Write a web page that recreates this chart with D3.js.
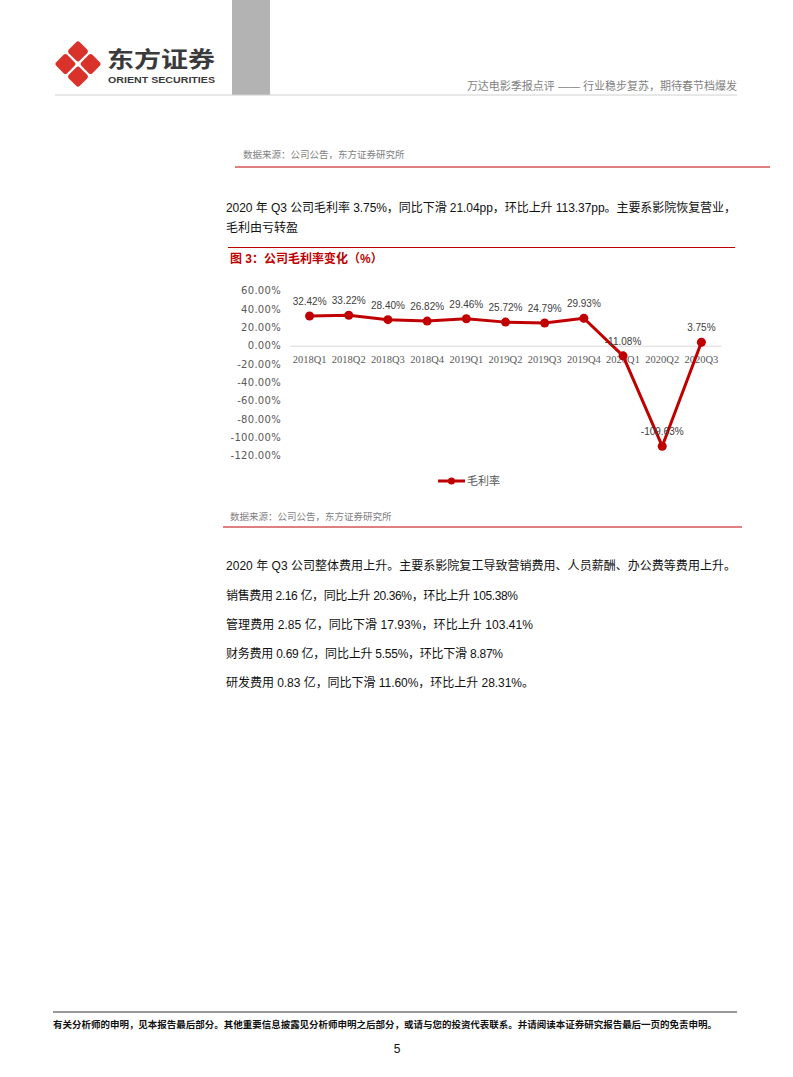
<!DOCTYPE html>
<html><head><meta charset="utf-8">
<script src="https://cdn.jsdelivr.net/npm/d3@7"></script>
<style>
html,body{margin:0;padding:0;background:#fff;}
svg{display:block;}
</style></head>
<body>
<div id="page"></div>
<script>
const categories = ["2018Q1","2018Q2","2018Q3","2018Q4","2019Q1","2019Q2","2019Q3","2019Q4","2020Q1","2020Q2","2020Q3"];
const grossMargin = [32.42, 33.22, 28.40, 26.82, 29.46, 25.72, 24.79, 29.93, -11.08, -109.63, 3.75];
const yTicks = [60, 40, 20, 0, -20, -40, -60, -80, -100, -120];
const seriesName = "毛利率";

const W = 793, H = 1077;
const CJK = "'Liberation Sans','Noto Sans CJK SC',sans-serif";
const RED = "#c00000";

const svg = d3.select("#page").append("svg").attr("width", W).attr("height", H);
svg.append("rect").attr("width", W).attr("height", H).attr("fill", "#fff");

// ---------- header ----------
svg.append("rect").attr("x", 232).attr("y", 0).attr("width", 38).attr("height", 95).attr("fill", "#b3b3b3");
svg.append("line").attr("x1", 55).attr("x2", 737).attr("y1", 95).attr("y2", 95).attr("stroke", "#d0d0d0").attr("stroke-width", 1);

// logo: four rounded diamonds forming an X-cut rhombus
const logo = svg.append("g").attr("transform", "translate(78,64)");
const pieces = [[0, -12.6], [12.6, 0], [0, 12.6], [-12.6, 0]];
logo.selectAll("rect").data(pieces).join("rect")
  .attr("x", -7.8).attr("y", -7.8).attr("width", 15.6).attr("height", 15.6).attr("rx", 2.6)
  .attr("transform", d => `translate(${d[0]},${d[1]}) rotate(45)`).attr("fill", "#d9322b");

svg.append("text").attr("x", 107).attr("y", 67).attr("font-family", "'Noto Sans CJK SC',sans-serif")
  .attr("font-weight", "bold").attr("font-size", 22).attr("fill", "#3a3a3a")
  .attr("textLength", 108).attr("lengthAdjust", "spacingAndGlyphs").text("东方证券");
svg.append("text").attr("x", 108).attr("y", 83).attr("font-family", "'Liberation Sans',sans-serif")
  .attr("font-weight", "bold").attr("font-size", 9.5).attr("fill", "#3a3a3a")
  .attr("textLength", 107).attr("lengthAdjust", "spacingAndGlyphs").text("ORIENT SECURITIES");
svg.append("text").attr("x", 737).attr("y", 90).attr("text-anchor", "end").attr("font-family", CJK)
  .attr("font-size", 11).attr("fill", "#7f7f7f").text("万达电影季报点评 —— 行业稳步复苏，期待春节档爆发");

// ---------- top source ----------
svg.append("text").attr("x", 243).attr("y", 158).attr("font-family", CJK).attr("font-size", 9.5)
  .attr("fill", "#7f7f7f").text("数据来源：公司公告，东方证券研究所");
svg.append("line").attr("x1", 235).attr("x2", 770).attr("y1", 167).attr("y2", 167).attr("stroke", RED).attr("stroke-width", 1);

// paragraph
const para = (y, t, len) => {
  const el = svg.append("text").attr("x", 226).attr("y", y).attr("font-family", CJK)
    .attr("font-size", 12).attr("fill", "#111").text(t);
  if (len) el.attr("textLength", len).attr("lengthAdjust", "spacing");
  return el;
};
para(212, "2020 年 Q3 公司毛利率 3.75%，同比下滑 21.04pp，环比上升 113.37pp。主要系影院恢复营业，", 510);
para(232, "毛利由亏转盈");

svg.append("line").attr("x1", 228).attr("x2", 735).attr("y1", 247.5).attr("y2", 247.5).attr("stroke", RED).attr("stroke-width", 1);
svg.append("text").attr("x", 230).attr("y", 263).attr("font-family", CJK).attr("font-size", 12)
  .attr("font-weight", "bold").attr("fill", RED).text("图 3：公司毛利率变化（%）");

// ---------- chart ----------
const x = d3.scaleBand().domain(categories).range([290, 721]);
const y = d3.scaleLinear().domain([-120, 60]).range([455.7, 290.7]);
const cx = d => x(d) + x.bandwidth() / 2;

// y axis
const yAxis = svg.append("g").attr("transform", "translate(281,0)")
  .call(d3.axisLeft(y).tickValues(yTicks).tickSize(0).tickPadding(0).tickFormat(d => d.toFixed(2) + "%"));
yAxis.select(".domain").remove();
yAxis.selectAll("text").attr("font-family", "'DejaVu Sans',sans-serif").attr("font-size", 10)
  .attr("letter-spacing", 0.3).attr("fill", "#595959");

// zero line / x axis
const xAxis = svg.append("g").attr("transform", `translate(0,${y(0)})`)
  .call(d3.axisBottom(x).tickSize(0).tickPadding(10));
xAxis.select(".domain").attr("stroke", "#d9d9d9").attr("stroke-width", 1);
xAxis.selectAll("text").attr("font-family", "'Liberation Serif',serif").attr("font-size", 10.5)
  .attr("fill", "#595959");

// line
const line = d3.line().x((d, i) => cx(categories[i])).y(d => y(d));
svg.append("path").datum(grossMargin).attr("d", line).attr("fill", "none")
  .attr("stroke", RED).attr("stroke-width", 3).attr("stroke-linejoin", "round");
svg.selectAll("circle.pt").data(grossMargin).join("circle").attr("class", "pt")
  .attr("cx", (d, i) => cx(categories[i])).attr("cy", d => y(d)).attr("r", 4.5).attr("fill", RED);

// data labels
svg.selectAll("text.lbl").data(grossMargin).join("text").attr("class", "lbl")
  .attr("x", (d, i) => cx(categories[i])).attr("y", d => y(d) - 11)
  .attr("text-anchor", "middle").attr("font-family", "'Liberation Sans',sans-serif")
  .attr("font-size", 10).attr("fill", "#404040").text(d => d.toFixed(2) + "%");

// legend
const lg = svg.append("g").attr("transform", "translate(438,481)");
lg.append("line").attr("x1", 0).attr("x2", 27).attr("stroke", RED).attr("stroke-width", 3);
lg.append("circle").attr("cx", 13.5).attr("r", 3.5).attr("fill", RED);
lg.append("text").attr("x", 29).attr("y", 4).attr("font-family", CJK).attr("font-size", 11)
  .attr("fill", "#595959").text(seriesName);

// bottom source
svg.append("text").attr("x", 230).attr("y", 520).attr("font-family", CJK).attr("font-size", 9.5)
  .attr("fill", "#7f7f7f").text("数据来源：公司公告，东方证券研究所");
svg.append("line").attr("x1", 223).attr("x2", 742).attr("y1", 527).attr("y2", 527).attr("stroke", RED).attr("stroke-width", 1);

para(570, "2020 年 Q3 公司整体费用上升。主要系影院复工导致营销费用、人员薪酬、办公费等费用上升。", 510);
para(600, "销售费用 2.16 亿，同比上升 20.36%，环比上升 105.38%", 292);
para(629, "管理费用 2.85 亿，同比下滑 17.93%，环比上升 103.41%", 307);
para(658, "财务费用 0.69 亿，同比上升 5.55%，环比下滑 8.87%", 277);
para(687, "研发费用 0.83 亿，同比下滑 11.60%，环比上升 28.31%。", 308);

// ---------- footer ----------
svg.append("line").attr("x1", 53).attr("x2", 737).attr("y1", 1012).attr("y2", 1012).attr("stroke", "#333").attr("stroke-width", 1);
svg.append("text").attr("x", 53).attr("y", 1028).attr("font-family", CJK).attr("font-size", 9.5)
  .attr("font-weight", "bold").attr("fill", "#111").attr("textLength", 664).attr("lengthAdjust", "spacingAndGlyphs")
  .text("有关分析师的申明，见本报告最后部分。其他重要信息披露见分析师申明之后部分，或请与您的投资代表联系。并请阅读本证券研究报告最后一页的免责申明。");
svg.append("text").attr("x", 397).attr("y", 1053).attr("text-anchor", "middle").attr("font-family", "'Liberation Sans',sans-serif")
  .attr("font-size", 12).attr("fill", "#111").text("5");
</script>
</body></html>
